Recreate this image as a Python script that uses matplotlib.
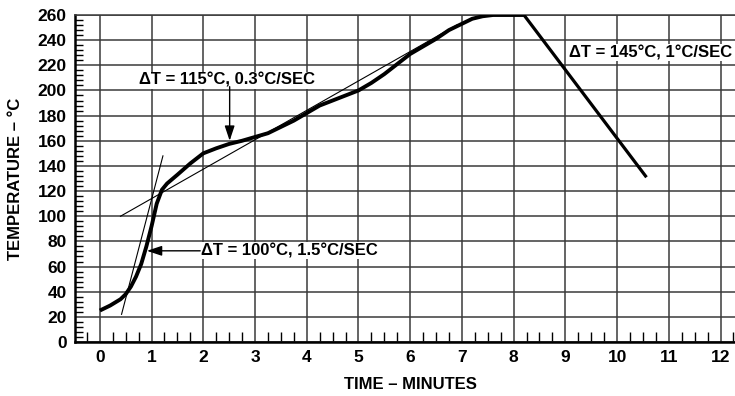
import matplotlib
matplotlib.use("Agg")
import matplotlib.pyplot as plt
import numpy as np

plt.rcParams['font.family'] = ['Liberation Sans', 'DejaVu Sans']
plt.rcParams['font.weight'] = 'bold'

# Reflow profile curve (time in minutes, temperature in °C)
time_min = [0, 0.2, 0.4, 0.5, 0.6, 0.7, 0.8, 0.9, 1.0, 1.1, 1.2, 1.3, 1.5, 1.75,
            2.0, 2.25, 2.5, 2.75, 3.0, 3.25, 3.5, 3.75, 4.0, 4.25, 4.5, 4.75,
            5.0, 5.25, 5.5, 5.75, 6.0, 6.25, 6.5, 6.75, 7.0, 7.2, 7.4, 7.6, 8.2, 10.55]
temp_c = [25, 29, 34, 38, 44, 52, 62, 76, 92, 110, 121, 126, 133, 142,
          150, 154, 157.5, 160, 163, 166, 171, 176, 182, 188, 192, 196,
          200, 206, 213, 221, 229, 235, 241, 248, 253, 257, 259, 260, 260, 132]

# Tangent (slope) lines
steep_x = [0.42, 1.22]
steep_y = [22, 148]
shallow_x = [0.4, 6.9]
shallow_y = [100, 252]

labels = ["\u0394T = 115°C, 0.3°C/SEC", "\u0394T = 100°C, 1.5°C/SEC", "\u0394T = 145°C, 1°C/SEC"]

x_ticks = list(range(0, 13))
y_ticks = list(range(0, 261, 20))

fig = plt.figure(figsize=(7.35, 3.96), dpi=100)
ax = fig.add_axes([75/735, 1-342/396, 1-75/735, (342-15)/396])
ax.set_xlim(-0.48, 12.28)
ax.set_ylim(0, 260)

ax.set_xticks(x_ticks)
ax.set_yticks(y_ticks)
ax.set_xticks(np.arange(-0.25, 12.3, 0.25), minor=True)
ax.set_yticks(np.arange(0, 261, 4), minor=True)
ax.tick_params(axis='both', which='major', length=0, labelsize=12.5, pad=6)
ax.tick_params(axis='x', which='minor', direction='in', length=7, width=1, color='black')
ax.tick_params(axis='y', which='minor', direction='in', length=6, width=1, color='black')
for lab in ax.get_xticklabels() + ax.get_yticklabels():
    lab.set_fontweight('bold')

ax.grid(True, which='major', color='#3a3a3a', lw=1.1)
ax.set_axisbelow(True)
ax.spines['right'].set_visible(False)
ax.spines['top'].set_color('#3a3a3a')
ax.spines['top'].set_linewidth(1.1)
ax.spines['left'].set_linewidth(1.8)
ax.spines['bottom'].set_linewidth(1.8)

ax.plot(steep_x, steep_y, color='black', lw=0.8, zorder=3)
ax.plot(shallow_x, shallow_y, color='black', lw=0.8, zorder=3)
ax.plot(time_min[:-1], temp_c[:-1], color='black', lw=2.8, zorder=4,
        solid_joinstyle='round', solid_capstyle='butt')
ax.plot(time_min[-2:], temp_c[-2:], color='black', lw=2.3, zorder=4)

bbox = dict(boxstyle='square,pad=0.05', fc='white', ec='none')
arrow = dict(arrowstyle='-|>,head_length=0.9,head_width=0.3', color='black',
             lw=1, shrinkA=0, shrinkB=0)

ax.text(0.76, 208, labels[0], fontsize=12, fontweight='bold', ha='left', va='center',
        bbox=bbox, zorder=5)
ax.annotate('', xy=(2.51, 160), xytext=(2.51, 203), arrowprops=arrow, zorder=6)

ax.text(1.96, 72.5, labels[1], fontsize=12, fontweight='bold', ha='left', va='center',
        bbox=bbox, zorder=5)
ax.annotate('', xy=(0.91, 72.5), xytext=(1.94, 72.5), arrowprops=arrow, zorder=6)

ax.text(9.08, 230, labels[2], fontsize=12, fontweight='bold', ha='left', va='center',
        bbox=bbox, zorder=5, clip_on=False)

ax.set_xlabel("TIME – MINUTES", fontsize=12, fontweight='bold')
ax.xaxis.set_label_coords((410-75)/660, -(377-342)/327)
ax.set_ylabel("TEMPERATURE – °C", fontsize=12, fontweight='bold')
ax.yaxis.set_label_coords(-(75-23)/660, 0.5)

fig.savefig("out.png", dpi=100)
